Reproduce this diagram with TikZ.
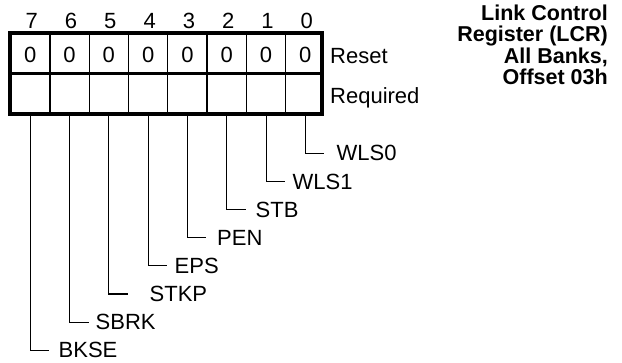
\documentclass[tikz,border=0pt]{standalone}
\usepackage{fontspec}
\setmainfont{Liberation Sans}
\usetikzlibrary{positioning}

\newcommand{\labelsize}{\fontsize{22}{22}\selectfont}
\newcommand{\titlesize}{\fontsize{21.5}{21.2}\selectfont\bfseries}

\begin{document}
\begin{tikzpicture}[x=1pt, y=-1pt,
    regframe/.style={line width=3.6pt},
    celldiv/.style={line width=1.3pt},
    leader/.style={line width=1.1pt},
    bitcell/.style={minimum width=39.3pt, minimum height=40.5pt, inner sep=0pt, font=\labelsize},
    bitnum/.style={anchor=base, inner sep=0pt, font=\labelsize},
    fieldname/.style={anchor=west, inner sep=0pt, font=\labelsize}]
  \useasboundingbox (0,0) rectangle (622,363);

  % Cells: bit numbers, reset values, required row
  \foreach \b in {0,...,7}{
    \node[bitcell] (rst\b) at ({30.25+39.3*(7-\b)}, 54.5) {0};
    \node[bitcell] (req\b) at ({30.25+39.3*(7-\b)}, 93.75) {};
    \node[bitnum] (num\b) at ({31.75+39.3*(7-\b)}, 28.3) {\b};
  }

  % Register frame
  \foreach \k in {1,...,7}
    \draw[celldiv] ({10.6+39.3*\k}, 33) -- ({10.6+39.3*\k}, 114);
  \draw[regframe] (10,73.5) -- (322,73.5);
  \draw[regframe] (10,33) rectangle (322,114);

  % Row names
  \node[fieldname, anchor=base west] (rstlbl) at (330,64) {Reset};
  \node[fieldname, anchor=base west] (reqlbl) at (330,103.3) {Required};

  % Field names and leaders
  \foreach \b/\fld/\tx in {0/WLS0/336.5, 1/WLS1/292.5, 2/STB/255.5, 3/PEN/217,
      4/EPS/174.5, 5/STKP/149.5, 6/SBRK/95.5, 7/BKSE/58.5}{
    \node[fieldname] (fld\b) at (\tx, {153.3+28.15*\b}) {\fld};
    \path (req\b.south |- fld\b.west) ++(19,0) coordinate (elb\b);
    \draw[leader] (req\b.south) |- (elb\b);
  }

  % Title
  \node[anchor=north east, align=right, inner sep=0pt, font=\titlesize] (title)
    at (608,5) {Link Control\\Register (LCR)\\All Banks,\\Offset 03h};
\end{tikzpicture}
\end{document}
